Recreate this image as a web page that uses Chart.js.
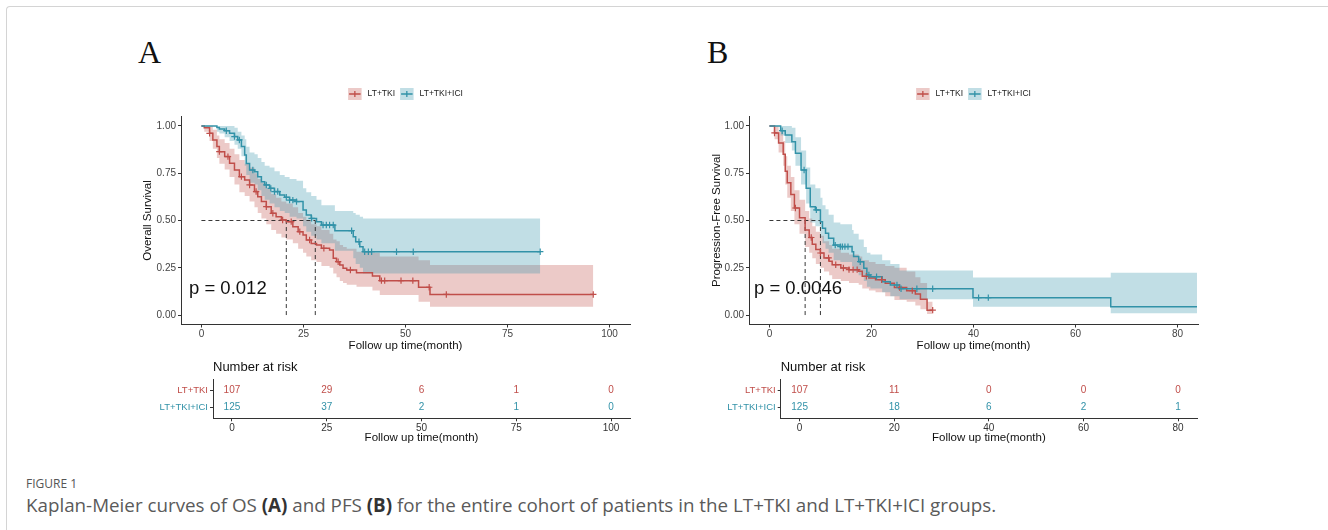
<!DOCTYPE html>
<html>
<head>
<meta charset="utf-8">
<script src="https://cdn.jsdelivr.net/npm/chart.js@4.4.1/dist/chart.umd.min.js"></script>
<style>
  body { margin: 0; width: 1328px; height: 530px; overflow: hidden; background: #fff; position: relative; }
  .frame { position: absolute; left: 6px; top: 6px; width: 1340px; height: 540px; border-left: 1px solid #d4d4d4; border-top: 1px solid #d4d4d4; border-top-left-radius: 4px; }
  canvas { position: absolute; }
  .tag { position: absolute; font-family: 'Liberation Serif', 'Times New Roman', serif; font-size: 32px; line-height: 1; color: #111; }
  .fig { position: absolute; left: 26px; top: 478px; font-family: 'Open Sans', sans-serif; font-size: 12px; line-height: 1; color: #555; }
  .caption { position: absolute; left: 26px; top: 496px; font-family: 'Open Sans', sans-serif; font-size: 18.8px; line-height: 1; color: #5a5a5a; white-space: nowrap; }
  .caption b { color: #333; }
</style>
</head>
<body>
<div class="frame"></div>
<div class="tag" style="left:138px; top:36px;">A</div>
<div class="tag" style="left:707px; top:36px;">B</div>
<canvas id="kmA" width="560" height="275" style="left:100px; top:80px;"></canvas>
<canvas id="riskA" width="560" height="95" style="left:100px; top:355px;"></canvas>
<canvas id="kmB" width="560" height="275" style="left:670px; top:80px;"></canvas>
<canvas id="riskB" width="560" height="95" style="left:670px; top:355px;"></canvas>
<div class="fig">FIGURE 1</div>
<div class="caption">Kaplan-Meier curves of OS <b>(A)</b> and PFS <b>(B)</b> for the entire cohort of patients in the LT+TKI and LT+TKI+ICI groups.</div>

<script>
const groupNames = ['LT+TKI', 'LT+TKI+ICI'];
const lineColors = ['#C04E4A', '#3292A8'];
const survTicks = [0, 0.25, 0.5, 0.75, 1];

// Panel A: overall survival
const osTkiTime  = [0, 0.7, 2.0, 2.8, 3.8, 4.4, 5.7, 6.9, 8.1, 9.3, 10.6, 11.8, 13.0, 13.8, 14.7, 15.9, 17.1, 18.3, 19.6, 20.8, 22.4, 23.7, 24.9, 25.7, 26.9, 28.2, 29.4, 31.4, 32.3, 33.1, 33.9, 34.7, 35.6, 38.0, 41.9, 43.7, 53.2, 56.0, 96.0];
const osTkiSurv  = [1, 0.990, 0.961, 0.926, 0.891, 0.864, 0.838, 0.803, 0.767, 0.732, 0.714, 0.688, 0.653, 0.626, 0.600, 0.573, 0.538, 0.520, 0.503, 0.494, 0.467, 0.441, 0.423, 0.397, 0.379, 0.370, 0.353, 0.344, 0.300, 0.282, 0.265, 0.247, 0.238, 0.224, 0.206, 0.182, 0.147, 0.109, 0.109];
const osTkiUpper = [1, 1, 1, 0.98, 0.95, 0.93, 0.91, 0.88, 0.85, 0.82, 0.80, 0.78, 0.75, 0.72, 0.70, 0.67, 0.64, 0.62, 0.60, 0.59, 0.57, 0.54, 0.52, 0.50, 0.48, 0.47, 0.45, 0.43, 0.40, 0.39, 0.37, 0.36, 0.35, 0.335, 0.33, 0.31, 0.29, 0.265, 0.265];
const osTkiLower = [1, 0.97, 0.92, 0.88, 0.83, 0.80, 0.77, 0.73, 0.69, 0.65, 0.63, 0.60, 0.57, 0.54, 0.51, 0.48, 0.45, 0.43, 0.41, 0.40, 0.38, 0.35, 0.33, 0.31, 0.29, 0.28, 0.26, 0.25, 0.22, 0.20, 0.18, 0.17, 0.16, 0.15, 0.13, 0.106, 0.07, 0.044, 0.044];
const osTkiCensor = [2.0, 4.4, 6.5, 9.8, 11.8, 13.4, 15.9, 17.5, 19.9, 22.0, 24.1, 26.5, 30.0, 33.5, 36.5, 44.1, 44.9, 48.9, 51.8, 55.8, 60.0, 96.0];

const osIciTime  = [0, 3.8, 4.4, 5.7, 6.9, 8.1, 8.9, 9.8, 10.6, 11.0, 11.8, 13.0, 13.8, 14.7, 15.5, 16.7, 17.9, 19.2, 20.4, 21.6, 23.3, 24.9, 25.7, 26.9, 28.2, 29.4, 32.7, 37.2, 37.8, 38.8, 39.6, 83.0];
const osIciSurv  = [1, 0.992, 0.984, 0.975, 0.961, 0.944, 0.926, 0.891, 0.847, 0.802, 0.767, 0.758, 0.732, 0.705, 0.688, 0.670, 0.653, 0.635, 0.623, 0.608, 0.600, 0.556, 0.529, 0.511, 0.494, 0.476, 0.446, 0.414, 0.388, 0.361, 0.335, 0.335];
const osIciUpper = [1, 1, 1, 1, 1, 0.99, 0.97, 0.95, 0.93, 0.89, 0.86, 0.85, 0.83, 0.81, 0.79, 0.78, 0.76, 0.74, 0.73, 0.72, 0.71, 0.67, 0.65, 0.63, 0.61, 0.58, 0.55, 0.54, 0.53, 0.52, 0.51, 0.51];
const osIciLower = [1, 0.97, 0.96, 0.94, 0.92, 0.90, 0.88, 0.84, 0.79, 0.74, 0.70, 0.69, 0.66, 0.63, 0.61, 0.59, 0.57, 0.55, 0.54, 0.52, 0.51, 0.47, 0.44, 0.42, 0.40, 0.38, 0.34, 0.30, 0.27, 0.25, 0.22, 0.22];
const osIciCensor = [6.1, 8.1, 9.3, 12.6, 15.9, 17.0, 17.9, 18.7, 20.8, 21.6, 22.4, 23.3, 27.0, 29.8, 30.6, 31.4, 32.3, 36.8, 38.6, 40.0, 40.9, 41.7, 47.8, 51.9, 83.0];

const osMedian = [20.8, 27.9];
const osTicks = [0, 25, 50, 75, 100];
const osRiskTime = [0, 25, 50, 75, 100];
const osRiskTki = [107, 29, 6, 1, 0];
const osRiskIci = [125, 37, 2, 1, 0];

// Panel B: progression-free survival
const pfsTkiTime  = [0, 1.0, 1.8, 2.7, 3.1, 3.5, 4.2, 4.9, 5.9, 7.0, 7.8, 8.4, 9.1, 10.0, 10.7, 11.7, 12.3, 14.0, 15.6, 17.5, 18.2, 19.5, 20.8, 22.7, 24.5, 26.9, 28.6, 29.6, 30.9, 32.0];
const pfsTkiSurv  = [1, 0.963, 0.91, 0.85, 0.76, 0.70, 0.637, 0.566, 0.515, 0.45, 0.41, 0.375, 0.346, 0.328, 0.302, 0.284, 0.266, 0.249, 0.240, 0.231, 0.205, 0.196, 0.187, 0.168, 0.146, 0.129, 0.111, 0.083, 0.026, 0.026];
const pfsTkiUpper = [1, 1, 0.97, 0.92, 0.84, 0.79, 0.73, 0.66, 0.61, 0.55, 0.51, 0.47, 0.44, 0.42, 0.39, 0.37, 0.35, 0.33, 0.32, 0.31, 0.29, 0.28, 0.27, 0.26, 0.25, 0.23, 0.20, 0.17, 0.07, 0.07];
const pfsTkiLower = [1, 0.93, 0.86, 0.79, 0.69, 0.62, 0.55, 0.48, 0.43, 0.36, 0.33, 0.30, 0.27, 0.25, 0.23, 0.21, 0.19, 0.18, 0.17, 0.16, 0.14, 0.13, 0.12, 0.10, 0.08, 0.07, 0.05, 0.03, 0.005, 0.005];
const pfsTkiCensor = [1.0, 5.1, 8.2, 10.0, 11.6, 13.0, 14.5, 15.6, 16.4, 17.2, 19.0, 22.0, 25.5, 28.0, 32.0];

const pfsIciTime  = [0, 2.2, 3.1, 4.4, 5.1, 6.2, 7.2, 8.0, 9.0, 10.0, 10.4, 11.0, 11.6, 12.6, 13.9, 16.2, 16.5, 17.5, 18.5, 19.1, 19.8, 22.1, 23.7, 25.5, 39.9, 66.9, 83.8];
const pfsIciSurv  = [1, 0.975, 0.952, 0.917, 0.855, 0.767, 0.670, 0.573, 0.556, 0.494, 0.459, 0.432, 0.406, 0.370, 0.362, 0.335, 0.309, 0.282, 0.247, 0.212, 0.203, 0.176, 0.159, 0.139, 0.092, 0.044, 0.044];
const pfsIciUpper = [1, 1, 1, 0.99, 0.94, 0.87, 0.78, 0.69, 0.67, 0.62, 0.58, 0.56, 0.53, 0.49, 0.48, 0.45, 0.43, 0.40, 0.36, 0.33, 0.32, 0.29, 0.27, 0.235, 0.199, 0.224, 0.224];
const pfsIciLower = [1, 0.95, 0.91, 0.87, 0.79, 0.69, 0.59, 0.49, 0.47, 0.41, 0.38, 0.35, 0.33, 0.29, 0.28, 0.26, 0.23, 0.21, 0.18, 0.15, 0.14, 0.12, 0.10, 0.083, 0.044, 0.009, 0.009];
const pfsIciCensor = [2.5, 6.8, 9.2, 12.9, 13.9, 14.3, 14.8, 15.4, 17.8, 19.5, 21.0, 25.0, 25.8, 28.9, 32.0, 41.0, 42.9];

const pfsMedian = [7.0, 10.0];
const pfsTicks = [0, 20, 40, 60, 80];
const pfsRiskTime = [0, 20, 40, 60, 80];
const pfsRiskTki = [107, 11, 0, 0, 0];
const pfsRiskIci = [125, 18, 6, 2, 1];

const FONT = '"Liberation Sans", Arial, sans-serif';
Chart.defaults.font.family = FONT;
Chart.defaults.color = '#333';

function hexA(hex, a) {
  const n = parseInt(hex.slice(1), 16);
  return `rgba(${n >> 16},${(n >> 8) & 255},${n & 255},${a})`;
}

// survival value at time t (step function, value after any drop at t)
function stepValue(times, surv, t) {
  let v = surv[0];
  for (let i = 0; i < times.length; i++) if (times[i] <= t) v = surv[i];
  return v;
}

// legend, p-value
const kmLabels = {
  id: 'kmLabels',
  afterDraw(chart, args, opts) {
    const { ctx, chartArea: area } = chart;
    ctx.save();
    ctx.font = '8.5px ' + FONT;
    ctx.textBaseline = 'middle';
    ctx.textAlign = 'left';
    const keyW = 13.5, keyH = 12, gap = 6, sep = 5;
    const widths = groupNames.map(n => ctx.measureText(n).width);
    const total = widths.reduce((a, w) => a + keyW + gap + w, 0) + sep;
    let x = (area.left + area.right) / 2 - total / 2;
    const y = opts.legendY;
    groupNames.forEach((name, k) => {
      ctx.fillStyle = hexA(lineColors[k], 0.3);
      ctx.fillRect(x, y - keyH / 2, keyW, keyH);
      ctx.strokeStyle = lineColors[k];
      ctx.lineWidth = 1.3;
      ctx.beginPath();
      ctx.moveTo(x + 1, y); ctx.lineTo(x + keyW - 1, y);
      ctx.moveTo(x + keyW / 2, y - 3); ctx.lineTo(x + keyW / 2, y + 3);
      ctx.stroke();
      ctx.fillStyle = '#222';
      ctx.fillText(name, x + keyW + gap, y);
      x += keyW + gap + widths[k] + sep;
    });
    ctx.font = '18.5px ' + FONT;
    ctx.fillStyle = '#111';
    ctx.fillText(opts.pText, area.left + opts.pDx, chart.scales.y.getPixelForValue(0.14));
    ctx.restore();
  }
};

function kmChart(id, cfg) {
  const datasets = [];
  cfg.groups.forEach((g, k) => {
    const pts = arr => g.time.map((t, i) => ({ x: t, y: arr[i] }));
    datasets.push({ data: pts(g.upper), stepped: true, borderWidth: 0, pointRadius: 0,
      fill: '+1', backgroundColor: hexA(lineColors[k], 0.3), order: 20 - k });
    datasets.push({ data: pts(g.lower), stepped: true, borderWidth: 0, pointRadius: 0, fill: false, order: 20 - k });
    datasets.push({ data: pts(g.surv), stepped: true, borderColor: lineColors[k], borderWidth: 1.5,
      pointRadius: 0, fill: false, order: 4 - k });
    datasets.push({ data: g.censor.map(t => ({ x: t, y: stepValue(g.time, g.surv, t) })), showLine: false,
      pointStyle: 'cross', pointRadius: 3.2, borderColor: lineColors[k], borderWidth: 1.2, order: 2 - k });
  });
  const dash = { borderColor: '#222', borderWidth: 0.9, borderDash: [4, 3], pointRadius: 0, fill: false, order: 8 };
  datasets.push(Object.assign({ data: [{ x: 0, y: 0.5 }, { x: Math.max(...cfg.medians), y: 0.5 }] }, dash));
  cfg.medians.forEach(m => datasets.push(Object.assign({ data: [{ x: m, y: 0 }, { x: m, y: 0.5 }] }, dash)));

  return new Chart(document.getElementById(id), {
    type: 'line',
    data: { datasets },
    plugins: [kmLabels],
    options: {
      responsive: false,
      animation: false,
      events: [],
      layout: { padding: { left: 0, top: 36.5, right: cfg.padRight, bottom: 0 } },
      plugins: {
        legend: { display: false },
        tooltip: { enabled: false },
        filler: { drawTime: 'beforeDatasetsDraw' },
        kmLabels: { legendY: 14, pText: cfg.pText, pDx: cfg.pDx }
      },
      scales: {
        x: {
          type: 'linear', min: cfg.xMin, max: cfg.xMax,
          afterBuildTicks: s => { s.ticks = cfg.xTicks.map(v => ({ value: v })); },
          afterFit: s => { s.height = 30.5; },
          grid: { display: true, drawOnChartArea: false, drawTicks: true, tickLength: 3, color: '#333' },
          border: { display: true, color: '#333', width: 1 },
          ticks: { padding: 1, color: '#444', font: { size: 10 }, maxRotation: 0, autoSkip: false },
          title: { display: true, text: 'Follow up time(month)', color: '#111', font: { size: 11.5 }, padding: { top: 0, bottom: 2.1 } }
        },
        y: {
          type: 'linear', min: -0.05, max: 1.05,
          afterBuildTicks: s => { s.ticks = survTicks.map(v => ({ value: v })); },
          afterFit: s => { s.width = cfg.yAxisW; },
          grid: { display: true, drawOnChartArea: false, drawTicks: true, tickLength: 3, color: '#333' },
          border: { display: true, color: '#333', width: 1 },
          ticks: { padding: 2, color: '#444', font: { size: 10 }, autoSkip: false, callback: v => v.toFixed(2) },
          title: { display: true, text: cfg.yTitle, color: '#111', font: { size: 11.5 }, padding: { top: cfg.yTitlePad, bottom: 0 } }
        }
      }
    }
  });
}

// number-at-risk numbers and title
const riskLabels = {
  id: 'riskLabels',
  afterDraw(chart, args, opts) {
    const { ctx, chartArea: area, scales: { x, y } } = chart;
    ctx.save();
    ctx.textBaseline = 'middle';
    ctx.textAlign = 'left';
    ctx.fillStyle = '#111';
    ctx.font = '13px ' + FONT;
    ctx.fillText('Number at risk', area.left, 12.7);
    ctx.font = '10px ' + FONT;
    ctx.textAlign = 'center';
    opts.rows.forEach((row, k) => {
      ctx.fillStyle = lineColors[k];
      opts.times.forEach((t, i) => ctx.fillText(String(row[i]), x.getPixelForValue(t), y.getPixelForValue(2 - k)));
    });
    ctx.restore();
  }
};

function riskChart(id, cfg) {
  return new Chart(document.getElementById(id), {
    type: 'line',
    data: { datasets: [{ data: [] }] },
    plugins: [riskLabels],
    options: {
      responsive: false,
      animation: false,
      events: [],
      layout: { padding: { left: 0, top: 24.4, right: cfg.padRight, bottom: 0 } },
      plugins: {
        legend: { display: false },
        tooltip: { enabled: false },
        riskLabels: { times: cfg.times, rows: cfg.rows }
      },
      scales: {
        x: {
          type: 'linear', min: cfg.xMin, max: cfg.xMax,
          afterBuildTicks: s => { s.ticks = cfg.xTicks.map(v => ({ value: v })); },
          afterFit: s => { s.height = 31.7; },
          grid: { display: true, drawOnChartArea: false, drawTicks: true, tickLength: 3, color: '#333' },
          border: { display: true, color: '#333', width: 1 },
          ticks: { padding: 1, color: '#333', font: { size: 10 }, maxRotation: 0, autoSkip: false },
          title: { display: true, text: 'Follow up time(month)', color: '#111', font: { size: 11.5 }, padding: { top: 0, bottom: 5.1 } }
        },
        y: {
          type: 'linear', min: 0.4, max: 2.6,
          afterBuildTicks: s => { s.ticks = [1, 2].map(v => ({ value: v })); },
          afterFit: s => { s.width = cfg.yAxisW; },
          grid: { display: true, drawOnChartArea: false, drawTicks: true, tickLength: 3, color: '#333' },
          border: { display: true, color: '#333', width: 1 },
          ticks: {
            padding: 2, font: { size: 9.5 }, autoSkip: false,
            callback: v => (v === 2 ? groupNames[0] : groupNames[1]),
            color: c => (c.tick && c.tick.value === 2 ? lineColors[0] : lineColors[1])
          }
        }
      }
    }
  });
}

kmChart('kmA', {
  xMin: -5, xMax: 105, xTicks: osTicks, padRight: 30, yAxisW: 81, yTitlePad: 41,
  yTitle: 'Overall Survival', pText: 'p = 0.012', pDx: 8, medians: osMedian,
  groups: [
    { time: osTkiTime, surv: osTkiSurv, upper: osTkiUpper, lower: osTkiLower, censor: osTkiCensor },
    { time: osIciTime, surv: osIciSurv, upper: osIciUpper, lower: osIciLower, censor: osIciCensor }
  ]
});
kmChart('kmB', {
  xMin: -4, xMax: 84, xTicks: pfsTicks, padRight: 32, yAxisW: 79, yTitlePad: 39.8,
  yTitle: 'Progression-Free Survival', pText: 'p = 0.0046', pDx: 5, medians: pfsMedian,
  groups: [
    { time: pfsTkiTime, surv: pfsTkiSurv, upper: pfsTkiUpper, lower: pfsTkiLower, censor: pfsTkiCensor },
    { time: pfsIciTime, surv: pfsIciSurv, upper: pfsIciUpper, lower: pfsIciLower, censor: pfsIciCensor }
  ]
});
riskChart('riskA', { xMin: -5, xMax: 105, xTicks: osRiskTime, padRight: 30, yAxisW: 113,
  times: osRiskTime, rows: [osRiskTki, osRiskIci] });
riskChart('riskB', { xMin: -4, xMax: 84, xTicks: pfsRiskTime, padRight: 33, yAxisW: 110.7,
  times: pfsRiskTime, rows: [pfsRiskTki, pfsRiskIci] });
</script>
</body>
</html>
